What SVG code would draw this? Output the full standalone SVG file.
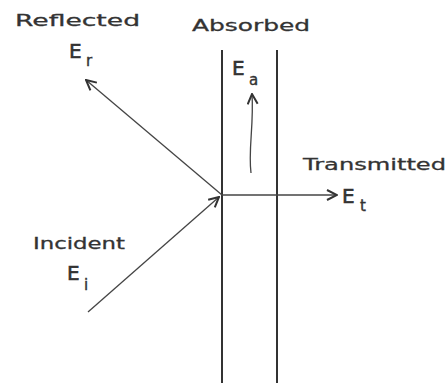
<svg xmlns="http://www.w3.org/2000/svg" width="448" height="386" viewBox="0 0 448 386">
<style>
.lbl{font-family:"DejaVu Sans","Liberation Sans",sans-serif;font-size:16px;fill:#333;stroke:#333;stroke-width:0.3;}
.E{font-family:"DejaVu Sans","Liberation Sans",sans-serif;font-size:20px;fill:#333;stroke:#333;stroke-width:0.6;}
.sub{font-family:"DejaVu Sans","Liberation Sans",sans-serif;font-size:15px;fill:#333;stroke:#333;stroke-width:0.4;}
.wall{stroke:#333;stroke-width:2;fill:none;}
.ray{stroke:#444;stroke-width:1.3;fill:none;}
</style>
<defs>
<marker id="ah" viewBox="0 0 12 12" refX="11" refY="6" markerWidth="12" markerHeight="12" markerUnits="userSpaceOnUse" orient="auto">
<path d="M1,1 L11,6 L1,11" fill="none" stroke="#333" stroke-width="2"/>
</marker>
</defs>
<rect width="448" height="386" fill="#fff"/>
<g id="slab">
<line class="wall" x1="222" y1="50" x2="222" y2="383"/>
<line class="wall" x1="277" y1="50" x2="277" y2="383"/>
</g>
<g id="connectors">
<line class="ray" x1="88" y1="312" x2="219" y2="197" marker-end="url(#ah)"/>
<line class="ray" x1="222" y1="195" x2="86" y2="80" marker-end="url(#ah)"/>
<line class="ray" x1="222" y1="195" x2="337" y2="195" marker-end="url(#ah)"/>
<path class="ray" d="M251,173 C248,150 254,125 252,94" marker-end="url(#ah)"/>
</g>
<g id="reflected">
<text class="lbl" x="15" y="26" textLength="125" lengthAdjust="spacingAndGlyphs">Reflected</text>
<text class="E" x="69" y="58">E</text><text class="sub" x="86" y="66">r</text>
</g>
<g id="absorbed">
<text class="lbl" x="192" y="31" textLength="118" lengthAdjust="spacingAndGlyphs">Absorbed</text>
<text class="E" x="232" y="75">E</text><text class="sub" x="249" y="85">a</text>
</g>
<g id="transmitted">
<text class="lbl" x="303" y="170" textLength="143" lengthAdjust="spacingAndGlyphs">Transmitted</text>
<text class="E" x="342" y="203">E</text><text class="sub" x="360" y="211">t</text>
</g>
<g id="incident">
<text class="lbl" x="33" y="249" textLength="92" lengthAdjust="spacingAndGlyphs">Incident</text>
<text class="E" x="67" y="280">E</text><text class="sub" x="84" y="290">i</text>
</g>
</svg>
